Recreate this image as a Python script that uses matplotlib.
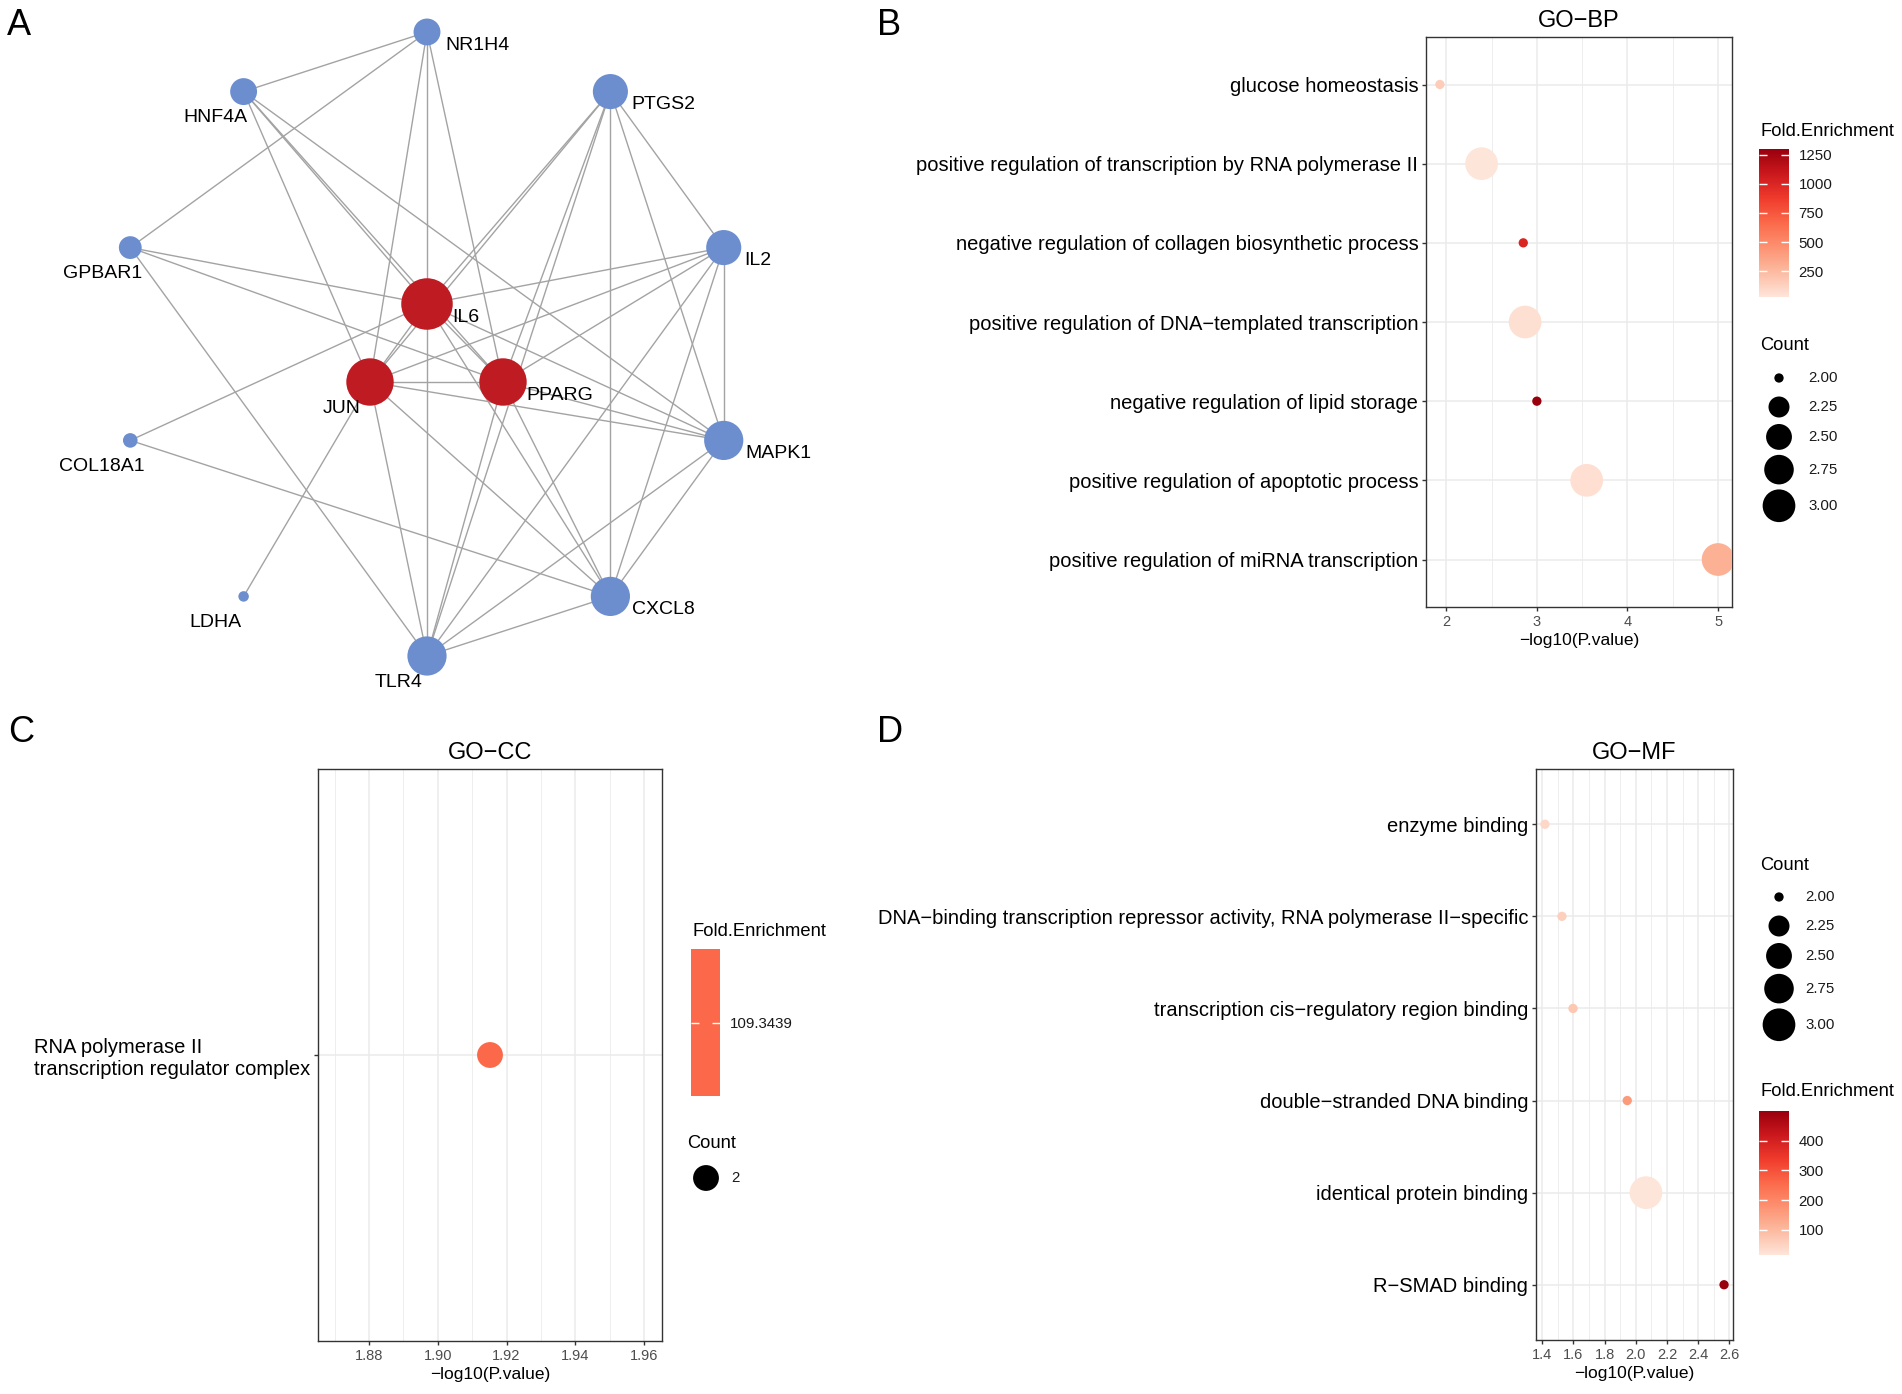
import numpy as np
import matplotlib
matplotlib.use("Agg")
import matplotlib.pyplot as plt
from matplotlib.colors import LinearSegmentedColormap, ListedColormap, Normalize
from matplotlib.cm import ScalarMappable
from matplotlib.ticker import MultipleLocator, FormatStrFormatter

plt.rcParams['font.family'] = ['Liberation Sans', 'DejaVu Sans']

W, H = 1902, 1394
M = "\u2212"

# ---- PPI network (A) ----
ring_genes = ["NR1H4", "PTGS2", "IL2", "MAPK1", "CXCL8", "TLR4",
              "LDHA", "COL18A1", "GPBAR1", "HNF4A"]
hub_genes = ["IL6", "JUN", "PPARG"]
hub_xy = {"IL6": (427, 304), "JUN": (370, 382), "PPARG": (503, 382)}
ring_center = (427, 344)
ring_radius = 312
edges = [
    ("NR1H4", "HNF4A"), ("NR1H4", "GPBAR1"), ("NR1H4", "IL6"),
    ("NR1H4", "JUN"), ("NR1H4", "PPARG"),
    ("HNF4A", "IL6"), ("HNF4A", "JUN"), ("HNF4A", "PPARG"), ("HNF4A", "MAPK1"),
    ("PTGS2", "IL6"), ("PTGS2", "JUN"), ("PTGS2", "PPARG"), ("PTGS2", "TLR4"),
    ("PTGS2", "CXCL8"), ("PTGS2", "MAPK1"), ("PTGS2", "IL2"),
    ("GPBAR1", "IL6"), ("GPBAR1", "PPARG"), ("GPBAR1", "TLR4"),
    ("IL2", "IL6"), ("IL2", "JUN"), ("IL2", "PPARG"), ("IL2", "MAPK1"),
    ("IL2", "TLR4"), ("IL2", "CXCL8"),
    ("COL18A1", "IL6"), ("COL18A1", "CXCL8"),
    ("LDHA", "JUN"),
    ("IL6", "JUN"), ("IL6", "PPARG"), ("IL6", "CXCL8"), ("IL6", "MAPK1"),
    ("IL6", "TLR4"),
    ("JUN", "PPARG"), ("JUN", "MAPK1"), ("JUN", "CXCL8"), ("JUN", "TLR4"),
    ("PPARG", "MAPK1"), ("PPARG", "CXCL8"), ("PPARG", "TLR4"),
    ("MAPK1", "TLR4"), ("MAPK1", "CXCL8"), ("CXCL8", "TLR4"),
]
label_right = ["NR1H4", "PTGS2", "IL2", "MAPK1", "CXCL8", "IL6", "PPARG"]

# ---- GO-BP (B) ----
bp_terms = ["glucose homeostasis",
            "positive regulation of transcription by RNA polymerase II",
            "negative regulation of collagen biosynthetic process",
            "positive regulation of DNA" + M + "templated transcription",
            "negative regulation of lipid storage",
            "positive regulation of apoptotic process",
            "positive regulation of miRNA transcription"]
bp_logp = [1.93, 2.39, 2.85, 2.87, 3.00, 3.55, 5.00]
bp_count = [2, 3, 2, 3, 2, 3, 3]
bp_fe = [150, 29, 1000, 58, 1299, 62, 300]
bp_ticks = [250, 500, 750, 1000, 1250]

# ---- GO-CC (C) ----
cc_terms = ["RNA polymerase II\ntranscription regulator complex"]
cc_logp = [1.9152]
cc_count = [2]
cc_fe = [109.3439]

# ---- GO-MF (D) ----
mf_terms = ["enzyme binding",
            "DNA" + M + "binding transcription repressor activity, RNA polymerase II" + M + "specific",
            "transcription cis" + M + "regulatory region binding",
            "double" + M + "stranded DNA binding",
            "identical protein binding",
            "R" + M + "SMAD binding"]
mf_logp = [1.417, 1.526, 1.597, 1.945, 2.065, 2.566]
mf_count = [2, 2, 2, 2, 3, 2]
mf_fe = [40, 55, 73, 160, 15, 500]
mf_ticks = [100, 200, 300, 400]

count_levels = [2.00, 2.25, 2.50, 2.75, 3.00]

reds = LinearSegmentedColormap.from_list(
    "reds", ["#FEE5D9", "#FCBBA1", "#FC9272", "#FB6A4A", "#EF3B2C", "#CB181D", "#99000D"])
D_MIN, D_MAX = 9.3, 32.7  # dot diameter range in px


def dot_diam(c, cmin, cmax):
    c = np.asarray(c, dtype=float)
    frac = np.full(c.shape, 0.5) if cmax == cmin else (c - cmin) / (cmax - cmin)
    return D_MIN + (D_MAX - D_MIN) * np.sqrt(frac)


def px2s(d):
    return (np.asarray(d) * 0.72) ** 2


fig = plt.figure(figsize=(W / 100, H / 100), dpi=100)


def px_axes(l, t, r, b):
    return fig.add_axes([l / W, 1 - b / H, (r - l) / W, (b - t) / H])


# ---------------- A: network ----------------
axA = px_axes(0, 0, 860, 700)
axA.set_xlim(0, 860)
axA.set_ylim(700, 0)
axA.axis('off')

pos = dict(hub_xy)
for i, g in enumerate(ring_genes):
    ang = np.deg2rad(36 * i)
    pos[g] = (ring_center[0] + ring_radius * np.sin(ang),
              ring_center[1] - ring_radius * np.cos(ang))

degree = {g: 0 for g in pos}
for a, b in edges:
    degree[a] += 1
    degree[b] += 1
    axA.plot([pos[a][0], pos[b][0]], [pos[a][1], pos[b][1]],
             color='#A3A3A3', lw=1.0, zorder=1)

for g, (x, y) in pos.items():
    r = 3.2 + 2.05 * degree[g]
    col = '#BE1B22' if g in hub_genes else '#6C8ECF'
    axA.scatter([x], [y], s=px2s(2 * r), color=col, edgecolors='none', zorder=3)
    if g in label_right:
        axA.text(x + 12 + 0.5 * r, y + 13, g, ha='left', va='center', fontsize=14, zorder=4)
    else:
        axA.text(x - 28, y + 26, g, ha='center', va='center', fontsize=14, zorder=4)


# ---------------- GO dot plots ----------------
def go_panel(ax, terms, logp, count, fe, title, major, minor, fmt):
    logp = np.asarray(logp, dtype=float)
    fe = np.asarray(fe, dtype=float)
    n = len(terms)
    ypos = np.arange(n)
    span = logp.max() - logp.min()
    pad = 0.05 * span if span > 0 else 0.05
    if fe.max() > fe.min():
        norm = Normalize(fe.min(), fe.max())
    else:
        norm = Normalize(fe.min() - 1, fe.max() + 1)
    ax.scatter(logp, ypos, s=px2s(dot_diam(count, min(count), max(count))),
               c=fe, cmap=reds, norm=norm, edgecolors='none', zorder=3)
    ax.set_xlim(logp.min() - pad, logp.max() + pad)
    ax.set_ylim(n - 1 + 0.6, -0.6)
    ax.set_yticks(ypos)
    ax.set_yticklabels(terms, fontsize=14.5, color='black')
    ax.xaxis.set_major_locator(MultipleLocator(major))
    ax.xaxis.set_minor_locator(MultipleLocator(minor))
    ax.xaxis.set_major_formatter(FormatStrFormatter(fmt))
    ax.tick_params(axis='x', which='major', labelsize=10.5, labelcolor='#4D4D4D')
    ax.tick_params(which='major', length=3, width=1, color='#333333', pad=2.5)
    ax.tick_params(which='minor', length=0)
    ax.grid(which='major', color='#EBEBEB', lw=1.1)
    ax.grid(which='minor', axis='x', color='#EBEBEB', lw=0.6)
    ax.set_axisbelow(True)
    for sp in ax.spines.values():
        sp.set_color('#333333')
        sp.set_linewidth(1.0)
    ax.set_xlabel(M + "log10(P.value)", fontsize=12.5, labelpad=3)
    ax.set_title(title, fontsize=17, pad=7)
    return norm


def colorbar(norm, box, ticks, labels=None, single=False):
    cax = px_axes(*box)
    cmap = reds
    if single:
        # only one value: the whole bar is that one colour
        cmap = ListedColormap([reds(0.5)])
    cb = fig.colorbar(ScalarMappable(norm=norm, cmap=cmap), cax=cax, ticks=ticks)
    cb.outline.set_visible(False)
    if labels is not None:
        cb.set_ticklabels(labels)
    cax.tick_params(direction='in', length=6, width=1, color='white',
                    labelcolor='#1A1A1A', left=True, right=True,
                    labelsize=10.8, pad=7)
    return cb


def count_legend(ov, x, y_title, y_first, levels, labels, xlab, cmin, cmax):
    ov.text(x - 19, y_title, "Count", fontsize=13.2, ha='left', va='center')
    diam = dot_diam(levels, cmin, cmax)
    key_h = np.maximum(29, diam + 5)
    y = y_first
    for i, (d, lab) in enumerate(zip(diam, labels)):
        if i > 0:
            y += (key_h[i - 1] + key_h[i]) / 2
        ov.scatter([x], [y], s=px2s(d), color='black', edgecolors='none')
        ov.text(xlab, y, lab, fontsize=10.8, ha='left', va='center', color='#1A1A1A')


axB = px_axes(1426, 37, 1732, 607)
normB = go_panel(axB, bp_terms, bp_logp, bp_count, bp_fe, "GO" + M + "BP", 1, 0.5, '%d')

axC = px_axes(318, 769, 662, 1341)
normC = go_panel(axC, cc_terms, cc_logp, cc_count, cc_fe, "GO" + M + "CC", 0.02, 0.01, '%.2f')
for lbl in axC.get_yticklabels():
    lbl.set_multialignment('left')

axD = px_axes(1536, 769, 1733, 1340)
normD = go_panel(axD, mf_terms, mf_logp, mf_count, mf_fe, "GO" + M + "MF", 0.2, 0.1, '%.1f')

colorbar(normB, (1759, 149, 1789, 297), bp_ticks)
colorbar(normC, (691, 949, 720, 1096), cc_fe, ["%.4f" % v for v in cc_fe], single=True)
colorbar(normD, (1759, 1111, 1789, 1255), mf_ticks)

ov = px_axes(0, 0, W, H)
ov.set_xlim(0, W)
ov.set_ylim(H, 0)
ov.axis('off')
ov.patch.set_visible(False)

ov.text(1760, 131, "Fold.Enrichment", fontsize=13.2, ha='left', va='center')
count_legend(ov, 1779, 345, 378, count_levels, ["%.2f" % v for v in count_levels], 1808, 2, 3)

ov.text(692, 931, "Fold.Enrichment", fontsize=13.2, ha='left', va='center')
count_legend(ov, 706, 1144, 1178, cc_count, ["%d" % v for v in cc_count], 731, 2, 2)

ov.text(1760, 1092, "Fold.Enrichment", fontsize=13.2, ha='left', va='center')
count_legend(ov, 1779, 865, 897, count_levels, ["%.2f" % v for v in count_levels], 1805, 2, 3)

for letter, x, y in [("A", 7, 35), ("B", 877, 35), ("C", 8, 742), ("D", 877, 742)]:
    ov.text(x, y, letter, fontsize=26, ha='left', va='baseline')

fig.savefig("out.png", dpi=100)
